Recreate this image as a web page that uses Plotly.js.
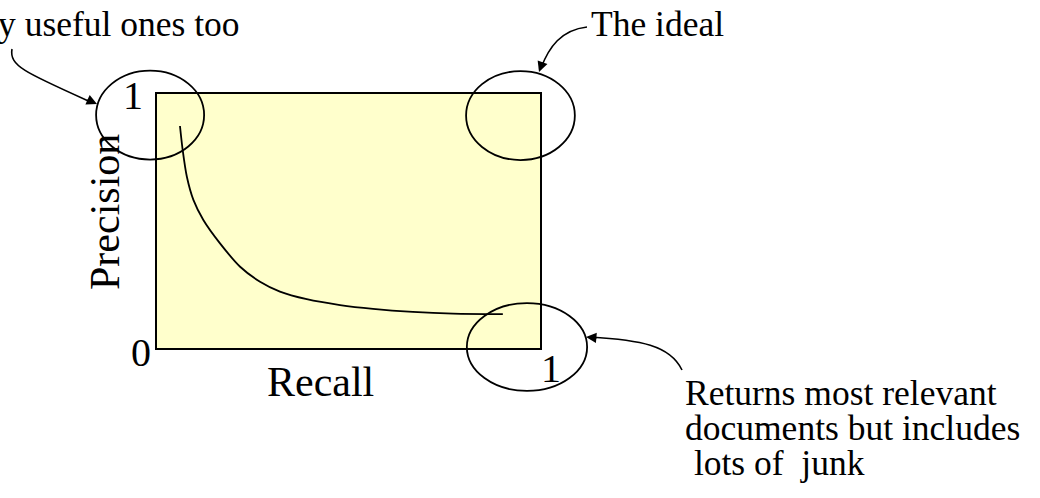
<!DOCTYPE html>
<html>
<head>
<meta charset="utf-8">
<script src="https://cdn.plot.ly/plotly-3.0.1.min.js"></script>
<style>html,body{margin:0;padding:0;background:#fff;}#chart{width:1040px;height:498px;}</style>
</head>
<body>
<div id="chart"></div>
<script>
// Precision-recall curve values (recall on x, precision on y)
var recall    = [0.060, 0.067, 0.078, 0.095, 0.121, 0.164, 0.217, 0.269, 0.321, 0.391, 0.478, 0.564, 0.668, 0.773, 0.903];
var precision = [0.874, 0.780, 0.674, 0.583, 0.504, 0.413, 0.320, 0.261, 0.222, 0.192, 0.169, 0.154, 0.142, 0.135, 0.133];

// Highlight ellipses (centres and radii in axis units; axes span 0..1)
var ellipseCx = [-0.018, 0.949, 0.966];
var ellipseCy = [0.917, 0.915, 0.004];
var ellipseRx = [0.141, 0.142, 0.157];
var ellipseRy = [0.175, 0.175, 0.173];

// Corner labels
var cornerText = ["1", "0", "1"];
var cornerX = [-0.063, -0.042, 1.029];
var cornerY = [0.995, -0.016, -0.079];

// Callout texts
var calloutText = ["y useful ones too", "The ideal", "Returns most relevant", "documents but includes", " lots of  junk"];

var serif = "Liberation Serif, Times New Roman, serif";

// pixel helpers for plot area (x:157..540, y:94..348) -> paper units
function dx(p){ return (p-157)/383; }
function dy(p){ return (348-p)/254; }

var shapes = [];
for (var i=0;i<ellipseCx.length;i++){
  shapes.push({type:'circle', xref:'paper', yref:'paper', layer:'above',
    x0:ellipseCx[i]-ellipseRx[i], x1:ellipseCx[i]+ellipseRx[i],
    y0:ellipseCy[i]-ellipseRy[i], y1:ellipseCy[i]+ellipseRy[i],
    line:{color:'#000', width:1.8}, fillcolor:'rgba(0,0,0,0)'});
}
// curved arrow bodies (cubic beziers, pixel control points)
var arrowCurves = [
  [[12,49],[9,66],[26,73],[93,103]],
  [[587,27],[561,30],[549,47],[541,68]],
  [[682,370],[670,345],[640,340],[590,337]]
];
arrowCurves.forEach(function(c){
  var p = 'M '+dx(c[0][0])+','+dy(c[0][1])+' C '+dx(c[1][0])+','+dy(c[1][1])+' '+dx(c[2][0])+','+dy(c[2][1])+' '+dx(c[3][0])+','+dy(c[3][1]);
  shapes.push({type:'path', xref:'paper', yref:'paper', layer:'above', path:p, line:{color:'#000', width:1.6}});
});

var ann = [];
// arrowheads
var heads = [[97,104,-11,-5],[539,72,4,-11],[586,337,12,1]];
heads.forEach(function(h){
  ann.push({x:dx(h[0]), y:dy(h[1]), xref:'paper', yref:'paper', text:'', showarrow:true,
    ax:h[2], ay:h[3], arrowhead:2, arrowsize:1.3, arrowwidth:1.6, arrowcolor:'#000', standoff:0});
});
for (var k=0;k<cornerText.length;k++){
  ann.push({x:cornerX[k], y:cornerY[k], xref:'paper', yref:'paper', text:cornerText[k], showarrow:false,
    font:{family:serif, size:40, color:'#000'}, xanchor:'center', yanchor:'middle'});
}
ann.push({x:dx(105), y:dy(212), xref:'paper', yref:'paper', text:'Precision', textangle:-90, showarrow:false,
  font:{family:serif, size:42, color:'#000'}, xanchor:'center', yanchor:'middle'});
ann.push({x:dx(320), y:dy(382), xref:'paper', yref:'paper', text:'Recall', showarrow:false,
  font:{family:serif, size:42, color:'#000'}, xanchor:'center', yanchor:'middle'});
ann.push({x:dx(242), y:dy(24), xref:'paper', yref:'paper', text:calloutText[0], showarrow:false,
  font:{family:serif, size:35.5, color:'#000'}, xanchor:'right', yanchor:'middle'});
ann.push({x:dx(589), y:dy(24), xref:'paper', yref:'paper', text:calloutText[1], showarrow:false,
  font:{family:serif, size:35.5, color:'#000'}, xanchor:'left', yanchor:'middle'});
var lineY = [393, 428, 463];
for (var m=0;m<3;m++){
  ann.push({x:dx(683), y:dy(lineY[m]), xref:'paper', yref:'paper', text:calloutText[2+m].replace(/ /g,'&nbsp;'), showarrow:false,
    font:{family:serif, size:35.5, color:'#000'}, xanchor:'left', yanchor:'middle'});
}

var trace = {x:recall, y:precision, type:'scatter', mode:'lines',
  line:{color:'#000', width:1.8, shape:'spline', smoothing:0.8}, hoverinfo:'skip'};

var layout = {
  width:1040, height:498,
  margin:{l:157, r:500, t:94, b:150, pad:0},
  paper_bgcolor:'#fff', plot_bgcolor:'#FFFFCC',
  showlegend:false,
  xaxis:{range:[0,1], showgrid:false, zeroline:false, showticklabels:false, ticks:'',
    showline:true, mirror:true, linecolor:'#000', linewidth:2, fixedrange:true},
  yaxis:{range:[0,1], showgrid:false, zeroline:false, showticklabels:false, ticks:'',
    showline:true, mirror:true, linecolor:'#000', linewidth:2, fixedrange:true},
  shapes:shapes, annotations:ann
};
Plotly.newPlot('chart', [trace], layout, {staticPlot:true, displayModeBar:false});
</script>
</body>
</html>
